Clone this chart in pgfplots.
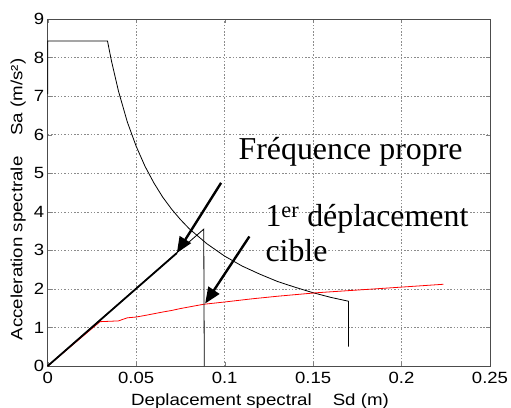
\documentclass[border=0pt]{standalone}
\usepackage{fontspec}
\setmainfont[FakeStretch=1.14]{Liberation Sans}
\newfontfamily\labfont[FakeStretch=1.15]{Liberation Sans}
\newfontfamily\annfont{Liberation Serif}
\usepackage{pgfplots}
\pgfplotsset{compat=1.18}
\usetikzlibrary{arrows.meta}

\begin{document}
\begin{tikzpicture}
\path[use as bounding box] (-47.7bp,-42bp) rectangle (463.3bp,366bp);
\begin{axis}[
    at={(0,0)}, anchor=south west,
    scale only axis,
    width=442.3bp, height=347bp,
    xmin=0, xmax=0.25, ymin=0, ymax=9,
    xtick={0,0.05,0.1,0.15,0.2,0.25},
    ytick={0,1,2,3,4,5,6,7,8,9},
    scaled x ticks=false,
    xticklabel style={/pgf/number format/fixed, /pgf/number format/precision=2, yshift=-2.5bp},
    /pgf/number format/assume math mode=true,
    ticklabel style={font=\fontsize{16.3}{18}\selectfont},
    label style={font=\labfont\fontsize{16.3}{18}\selectfont},
    grid=major,
    grid style={dash pattern=on 1.5bp off 1.8bp, black!45, line width=0.5bp},
    tick align=inside,
    major tick length=4bp,
    axis line style={line width=0.6bp, black!70},
    xlabel={Deplacement spectral\hspace{21bp}Sd (m)},
    ylabel={Acceleration spectrale\hspace{21bp}Sa (m/s²)},
    xlabel style={at={(axis description cs:0.48,-0.1124)}, anchor=base},
    ylabel style={at={(axis description cs:-0.067,0.48)}, anchor=center},
    clip=false,
]
% spectre de demande (noir)
\addplot[black, line width=0.8bp] coordinates {
    (0,7.05) (0,8.43) (0.0338,8.43) (0.036,7.92) (0.04,7.13) (0.045,6.33)
    (0.05,5.70) (0.055,5.18) (0.06,4.75) (0.065,4.38) (0.07,4.07) (0.075,3.80)
    (0.08,3.56) (0.09,3.17) (0.1,2.85) (0.11,2.59) (0.12,2.38) (0.13,2.19)
    (0.14,2.04) (0.15,1.90) (0.16,1.78) (0.17,1.68) (0.17,0.5)};
% courbe de capacite (rouge)
\addplot[red, line width=0.8bp] coordinates {
    (0,0) (0.0296,1.15) (0.035,1.16) (0.040,1.17) (0.045,1.25) (0.050,1.27)
    (0.056,1.32) (0.065,1.40) (0.070,1.44) (0.075,1.49) (0.088,1.60)
    (0.1,1.66) (0.115,1.74) (0.13,1.81) (0.152,1.90) (0.175,1.97)
    (0.198,2.04) (0.2237,2.12)};
% droite elastique
\addplot[black, line width=0.8bp] coordinates {(0,0) (0.0882,3.55) (0.0885,0)};
\addplot[black, line width=1.8bp] coordinates {(0,0) (0.073,2.93)};
% fleches
\draw[line width=2.4bp, -{Triangle[length=16bp, width=13bp]}]
    (axis cs:0.098,4.75) -- (axis cs:0.073,2.93);
\draw[line width=2.4bp, -{Triangle[length=16bp, width=13bp]}]
    (axis cs:0.114,3.36) -- (axis cs:0.089,1.62);
\node[anchor=base west, inner sep=0, font=\annfont\fontsize{32}{38}\selectfont]
    at (axis cs:0.1078,5.36) {Fréquence propre};
\node[anchor=base west, inner sep=0, font=\annfont\fontsize{32}{38}\selectfont]
    at (axis cs:0.123,3.61) {1\textsuperscript{er} déplacement};
\node[anchor=base west, inner sep=0, font=\annfont\fontsize{32}{38}\selectfont]
    at (axis cs:0.123,2.71) {cible};
\end{axis}
\end{tikzpicture}
\end{document}
